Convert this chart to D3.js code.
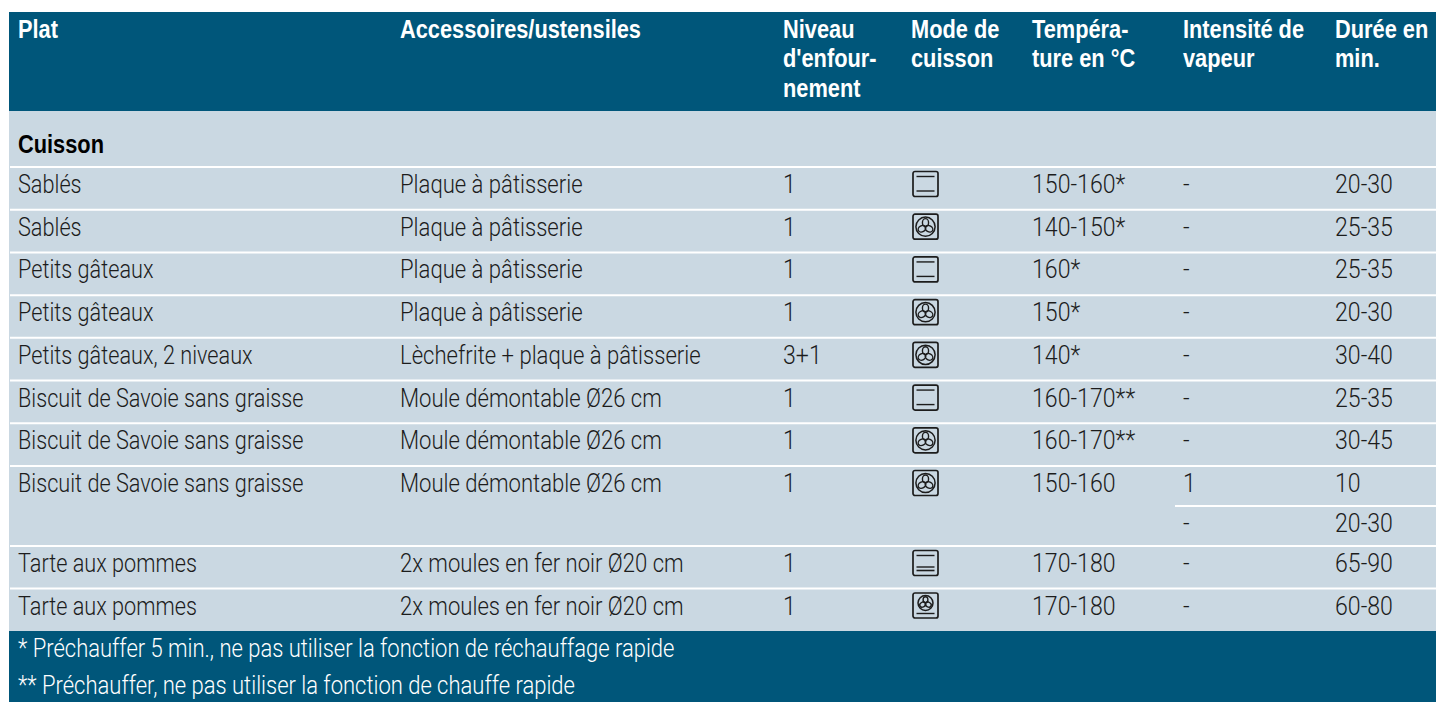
<!DOCTYPE html>
<html>
<head>
<meta charset="utf-8">
<script src="https://cdnjs.cloudflare.com/ajax/libs/d3/7.8.5/d3.min.js"></script>
<style>
  html, body { margin: 0; padding: 0; background: #fff; }
  svg { display: block; }
  text { font-family: Roboto, "Liberation Sans", sans-serif; font-size: 25px; font-weight: 300; }
  text.bold { font-family: "Liberation Sans", sans-serif; font-weight: bold; }
</style>
</head>
<body>
<div id="chart"></div>
<script>
const headers = [
  ["Plat"],
  ["Accessoires/ustensiles"],
  ["Niveau", "d'enfour-", "nement"],
  ["Mode de", "cuisson"],
  ["Tempéra-", "ture en °C"],
  ["Intensité de", "vapeur"],
  ["Durée en", "min."]
];
const section = "Cuisson";
const plats = ["Sablés", "Sablés", "Petits gâteaux", "Petits gâteaux", "Petits gâteaux, 2 niveaux",
  "Biscuit de Savoie sans graisse", "Biscuit de Savoie sans graisse", "Biscuit de Savoie sans graisse", "",
  "Tarte aux pommes", "Tarte aux pommes"];
const accessoires = ["Plaque à pâtisserie", "Plaque à pâtisserie", "Plaque à pâtisserie", "Plaque à pâtisserie",
  "Lèchefrite + plaque à pâtisserie", "Moule démontable Ø26 cm", "Moule démontable Ø26 cm", "Moule démontable Ø26 cm", "",
  "2x moules en fer noir Ø20 cm", "2x moules en fer noir Ø20 cm"];
const niveaux = ["1", "1", "1", "1", "3+1", "1", "1", "1", "", "1", "1"];
const modes = ["voute", "fan", "voute", "fan", "fan", "voute", "fan", "fan", "", "grill", "fanSole"];
const temperatures = ["150-160*", "140-150*", "160*", "150*", "140*", "160-170**", "160-170**", "150-160", "",
  "170-180", "170-180"];
const vapeurs = ["-", "-", "-", "-", "-", "-", "-", "1", "-", "-", "-"];
const durees = ["20-30", "25-35", "25-35", "20-30", "30-40", "25-35", "30-45", "10", "20-30", "65-90", "60-80"];
const notes = ["* Préchauffer 5 min., ne pas utiliser la fonction de réchauffage rapide",
  "** Préchauffer, ne pas utiliser la fonction de chauffe rapide"];

const width = 1436, height = 702;
const dark = "#00567a", pale = "#cad8e2", ink = "#1c1c1c";
const columns = ["plat", "acc", "niv", "mode", "temp", "vap", "dur"];
// no condensed font here, so text gets squeezed horizontally
const narrowBold = 0.872, narrowPlat = 0.868, narrowLight = 0.883, narrowNotes = 0.88, narrowDigits = 0.925;

const x = d3.scaleOrdinal().domain(columns).range([18, 400, 783, 911, 1032, 1183, 1335]);
// the split row (index 7/8) is a bit shorter than the others
const rowY = d3.scaleLinear().domain([0, 7, 9, 11]).range([167, 466, 546, 631]);

const svg = d3.select("#chart").append("svg").attr("width", width).attr("height", height);

svg.append("rect").attr("x", 9).attr("y", 12).attr("width", width - 9).attr("height", 99).attr("fill", dark);
svg.append("rect").attr("x", 9).attr("y", 111).attr("width", width - 9).attr("height", 520).attr("fill", pale);
svg.append("rect").attr("x", 9).attr("y", 631).attr("width", width - 9).attr("height", 71).attr("fill", dark);

const place = (px, py, sx) => "translate(" + px + "," + py + ") scale(" + sx + ",1)";

// header
headers.forEach((lines, i) => {
  svg.append("g").selectAll("text")
    .data(lines)
    .enter()
    .append("text")
    .attr("class", "bold")
    .attr("fill", "#fff")
    .attr("transform", (d, j) => place(x(columns[i]), 38 + j * 29.3, narrowBold))
    .text(d => d);
});

svg.append("text").attr("class", "bold").attr("transform", place(18, 153, narrowBold)).attr("fill", "#000").text(section);

// row separators
const rowIdx = d3.range(plats.length);
svg.append("g").selectAll("line")
  .data(rowIdx)
  .enter()
  .append("line")
  .attr("x1", d => d === 8 ? 1175 : 10)
  .attr("x2", width)
  .attr("y1", d => rowY(d))
  .attr("y2", d => rowY(d))
  .attr("stroke", "#fff")
  .attr("stroke-width", 2);

// cells
const cellCols = [
  ["plat", plats, narrowPlat], ["acc", accessoires, narrowLight], ["niv", niveaux, narrowDigits],
  ["temp", temperatures, narrowDigits], ["vap", vapeurs, narrowDigits], ["dur", durees, narrowDigits]
];
cellCols.forEach(([col, values, sx]) => {
  svg.append("g").selectAll("text")
    .data(values)
    .enter()
    .append("text")
    .attr("transform", (d, i) => place(x(col), rowY(i) + 26, sx))
    .attr("fill", ink)
    .text(d => d);
});

// cooking mode icons
const drawFan = (g, cx, cy, r) => {
  g.append("circle").attr("cx", cx).attr("cy", cy).attr("r", r).attr("fill", "none").attr("stroke", ink).attr("stroke-width", 1.5);
  [0, 120, 240].forEach(a => {
    g.append("ellipse")
      .attr("cx", cx).attr("cy", cy - r * 0.42)
      .attr("rx", r * 0.32).attr("ry", r * 0.42)
      .attr("fill", "none").attr("stroke", ink).attr("stroke-width", 1.4)
      .attr("transform", "rotate(" + a + " " + cx + " " + cy + ")");
  });
};
const bar = (g, y, w) => g.append("line").attr("x1", 4).attr("x2", 22).attr("y1", y).attr("y2", y)
  .attr("stroke", ink).attr("stroke-width", w);

modes.forEach((m, i) => {
  if (!m) return;
  const g = svg.append("g").attr("transform", "translate(" + (x("mode") + 1.5) + "," + (rowY(i) + 4) + ")");
  g.append("rect").attr("x", 0.5).attr("y", 0.5).attr("width", 25).attr("height", 25).attr("rx", 2)
    .attr("fill", "none").attr("stroke", ink).attr("stroke-width", 1.7);
  if (m === "voute") { bar(g, 5.5, 1.4); bar(g, 20, 1.4); }
  if (m === "grill") { bar(g, 5.5, 1.4); bar(g, 17, 1.4); bar(g, 20.5, 1.6); }
  if (m === "fan") drawFan(g, 13, 13, 9.6);
  if (m === "fanSole") { drawFan(g, 13, 10.5, 7.5); bar(g, 21, 1.4); }
});

// footnotes
svg.append("g").selectAll("text")
  .data(notes)
  .enter()
  .append("text")
  .attr("transform", (d, i) => place(18, 657 + i * 37, narrowNotes))
  .attr("fill", "#fff")
  .text(d => d);
</script>
</body>
</html>
